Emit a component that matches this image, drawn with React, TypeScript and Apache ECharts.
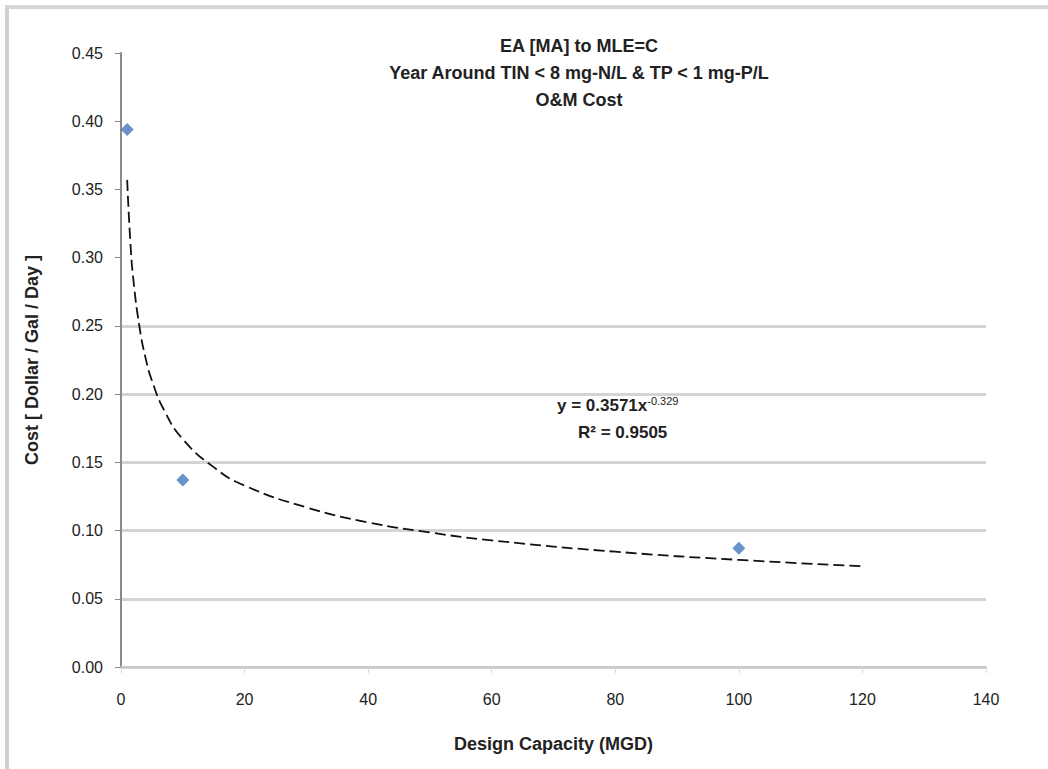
import React, { useEffect, useRef } from "react";
import * as echarts from "echarts";

const titleLines = ["EA [MA] to MLE=C", "Year Around TIN < 8 mg-N/L & TP < 1 mg-P/L", "O&M Cost"];
const xAxisName = "Design Capacity (MGD)";
const yAxisName = "Cost [ Dollar / Gal / Day ]";
const capacity = [1, 10, 100];
const cost = [0.394, 0.137, 0.087];
// trendline points (power fit)
const trendX = [1, 1.5, 2, 3, 4, 5, 7, 10, 15, 20, 30, 40, 50, 60, 80, 100, 120];
const trendY = [0.357, 0.3125, 0.284, 0.249, 0.226, 0.210, 0.188, 0.167, 0.1465, 0.133, 0.117, 0.106, 0.0986, 0.0928, 0.0845, 0.0785, 0.0739];
const equationText = "y = 0.3571x";
const equationExp = "-0.329";
const r2Text = "R² = 0.9505";

export default function App() {
  const ref = useRef<HTMLDivElement>(null);
  useEffect(() => {
    document.body.style.margin = "0";
    const chart = echarts.init(ref.current!, undefined, { renderer: "svg" });
    const font = "'Liberation Sans', Arial, sans-serif";
    chart.setOption({
      animation: false,
      backgroundColor: "#ffffff",
      textStyle: { fontFamily: font },
      title: {
        text: titleLines.join("\n"),
        left: 574,
        top: 27,
        textAlign: "center",
        textStyle: { fontSize: 18, fontWeight: "bold", color: "#222", lineHeight: 27, fontFamily: font },
      },
      grid: { left: 121, right: 62, top: 53, bottom: 102 },
      xAxis: {
        type: "value",
        min: 0,
        max: 140,
        interval: 20,
        name: xAxisName,
        nameLocation: "middle",
        nameGap: 68,
        nameTextStyle: { fontSize: 18, fontWeight: "bold", color: "#222" },
        axisLine: { show: true, onZero: false, lineStyle: { color: "#c8c8c8", width: 2 } },
        axisTick: { show: true, length: 6, inside: false, lineStyle: { color: "#d8d8d8" } },
        axisLabel: { fontSize: 16, color: "#222", margin: 24 },
        splitLine: { show: false },
      },
      yAxis: {
        type: "value",
        min: 0,
        max: 0.45,
        interval: 0.05,
        name: yAxisName,
        nameLocation: "middle",
        nameGap: 80,
        nameTextStyle: { fontSize: 18, fontWeight: "bold", color: "#222" },
        axisLine: { show: true, lineStyle: { color: "#8a8a8a", width: 2 } },
        axisTick: { show: true, length: 6, lineStyle: { color: "#8a8a8a" } },
        axisLabel: { fontSize: 16, color: "#222", margin: 18, formatter: (v: number) => v.toFixed(2) },
        splitLine: {
          show: true,
          lineStyle: {
            width: 3,
            color: ["#d4d4d4", "#d4d4d4", "#d4d4d4", "#d4d4d4", "#d4d4d4", "#d4d4d4", "rgba(0,0,0,0)", "rgba(0,0,0,0)", "rgba(0,0,0,0)", "rgba(0,0,0,0)"],
          },
        },
      },
      graphic: [
        { type: "line", shape: { x1: 7, y1: 7, x2: 7, y2: 769 }, style: { stroke: "#cfcfcf", lineWidth: 4 }, silent: true },
        { type: "line", shape: { x1: 5, y1: 7, x2: 1048, y2: 7 }, style: { stroke: "#d6d6d6", lineWidth: 4 }, silent: true },
        {
          type: "text",
          left: 557,
          top: 395,
          style: {
            text: "{a|" + equationText + "}{e|" + equationExp + "}",
            rich: {
              a: { fontSize: 17, fontWeight: "bold", fill: "#222", fontFamily: font },
              e: { fontSize: 11, fill: "#222", verticalAlign: "top", padding: [0, 0, 10, 0], fontFamily: font },
            },
          },
        },
        {
          type: "text",
          left: 578,
          top: 424,
          style: { text: r2Text, fontSize: 17, fontWeight: "bold", fill: "#222", fontFamily: font },
        },
      ],
      series: [
        {
          type: "line",
          data: trendX.map((x, i) => [x, trendY[i]]),
          smooth: true,
          showSymbol: false,
          lineStyle: { color: "#111", width: 1.8, type: [11, 5] },
          z: 2,
        },
        {
          type: "scatter",
          data: capacity.map((x, i) => [x, cost[i]]),
          symbol: "diamond",
          symbolSize: 13,
          itemStyle: { color: "#4277bd" },
          z: 3,
        },
      ],
    });
    return () => chart.dispose();
  }, []);
  return <div ref={ref} style={{ width: 1048, height: 769 }} />;
}
